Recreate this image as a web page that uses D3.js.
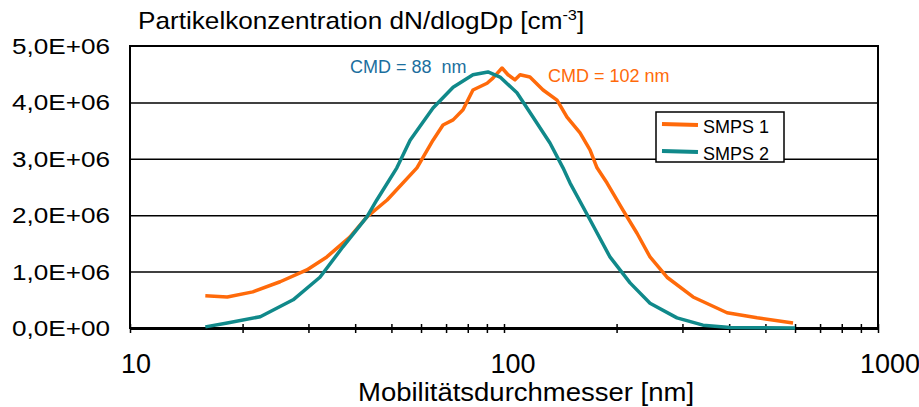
<!DOCTYPE html>
<html><head><meta charset="utf-8">
<script src="https://cdn.jsdelivr.net/npm/d3@7"></script>
<style>body{margin:0;background:#fff}svg{display:block}text{font-family:"Liberation Sans",Arial,sans-serif;white-space:pre}</style>
</head><body><svg id="c" width="919" height="407"></svg>
<script>
const smps1Dp = [15.9,18.2,21.3,25.2,29.7,33.6,38.7,43.0,48.7,58.5,64.6,68.7,73.1,77.7,82.6,90.1,93.4,98.8,102.5,107,110.4,117.3,127.2,138.6,147.4,159.7,169.8,177.3,188.6,208,226.8,245.7,272.8,320.2,394.8,474.9,592.7];
const smps1N  = [0.57,0.55,0.64,0.82,1.03,1.26,1.61,1.97,2.27,2.84,3.33,3.60,3.69,3.87,4.22,4.34,4.43,4.61,4.49,4.40,4.49,4.45,4.22,4.04,3.74,3.46,3.16,2.84,2.57,2.09,1.68,1.26,0.90,0.55,0.27,0.18,0.09];
const smps2Dp = [15.9,18.2,22.3,27.3,32.2,37.1,43.0,45.7,51.7,56.1,64.6,73.1,82.6,90.6,97.6,108.3,119.5,132.7,143.8,150.2,169.8,192,217.3,245.7,290.1,340.5,402.2,600];
const smps2N  = [0.02,0.09,0.20,0.50,0.90,1.44,1.97,2.27,2.84,3.33,3.90,4.27,4.49,4.54,4.45,4.17,3.74,3.28,2.84,2.57,1.92,1.26,0.80,0.44,0.18,0.05,0.01,0.0];
const seriesNames = ["SMPS 1","SMPS 2"];
const yTickValues = [0,1e6,2e6,3e6,4e6,5e6];
const yTickLabels = ["0,0E+00","1,0E+06","2,0E+06","3,0E+06","4,0E+06","5,0E+06"];
const xTickValues = [10,100,1000];
const xTickLabels = ["10","100","1000"];
const cmdLabels = ["CMD = 88  nm","CMD = 102 nm"];

const svg = d3.select("#c");
const L=130,R=878,T=46,B=328;
const x = d3.scaleLog().domain([10,1000]).range([L,R]);
const y = d3.scaleLinear().domain([0,5e6]).range([B,T]);
const orange="#ff6a0a", teal="#10898a";

// gridlines
svg.append("g").attr("transform",`translate(${L},0)`)
  .call(d3.axisLeft(y).tickValues(yTickValues.slice(1,5)).tickSize(-(R-L)).tickFormat(""))
  .call(g=>g.select(".domain").remove())
  .call(g=>g.selectAll("line").attr("stroke","#000").attr("stroke-width",1.5));
// y labels (horizontally stretched like the reference)
svg.append("g").selectAll("text").data(yTickValues).join("text")
  .attr("transform",d=>`translate(110,${y(d)+8}) scale(1.16,1)`)
  .attr("text-anchor","end").attr("font-size",22.5).attr("fill","#000")
  .text((d,i)=>yTickLabels[i]);
// frame
svg.append("rect").attr("x",L).attr("y",T).attr("width",R-L).attr("height",B-T).attr("fill","none").attr("stroke","#000").attr("stroke-width",2);
// x axis ticks
const minor=[]; for(let d=10; d<1000; d*=10) for(let k=1;k<10;k++) minor.push(d*k); minor.push(1000);
svg.append("g").attr("transform",`translate(0,${B})`)
  .call(d3.axisBottom(x).tickValues(minor).tickSizeInner(5).tickSizeOuter(0).tickFormat(""))
  .call(g=>g.select(".domain").attr("stroke-width",3))
  .call(g=>g.selectAll("line").attr("stroke-width",1.5));
svg.append("g").attr("transform",`translate(0,${B})`)
  .call(d3.axisTop(x).tickValues(minor).tickSizeInner(4).tickSizeOuter(0).tickFormat(""))
  .call(g=>g.select(".domain").remove())
  .call(g=>g.selectAll("line").attr("stroke-width",1.5));
svg.append("g").selectAll("text").data(xTickValues).join("text")
  .attr("x",(d,i)=>x(d)+6+i*3).attr("y",373).attr("text-anchor","middle")
  .attr("font-size",27).attr("fill","#000").text((d,i)=>xTickLabels[i]);

// lines
const line = (dp,n)=>d3.line().x((d,i)=>x(dp[i])).y((d,i)=>y(n[i]*1e6))(dp);
svg.append("path").attr("d",line(smps1Dp,smps1N)).attr("fill","none").attr("stroke",orange).attr("stroke-width",3.5).attr("stroke-linejoin","round");
svg.append("path").attr("d",line(smps2Dp,smps2N)).attr("fill","none").attr("stroke",teal).attr("stroke-width",3.5).attr("stroke-linejoin","round");

// titles
const t = svg.append("text").attr("transform","translate(138,29) scale(1.09,1)").attr("font-size",24);
t.append("tspan").text("Partikelkonzentration dN/dlogDp [cm");
t.append("tspan").attr("font-size",15).attr("dy",-9).text("-3");
t.append("tspan").attr("dy",9).text("]");
svg.append("text").attr("transform",`translate(526,401) scale(1.1,1)`).attr("text-anchor","middle").attr("font-size",25).text("Mobilitätsdurchmesser [nm]");

// CMD annotations
svg.append("text").attr("x",350).attr("y",73).attr("font-size",18).attr("fill","#1b6f9e").text(cmdLabels[0]);
svg.append("text").attr("x",548).attr("y",82).attr("font-size",18).attr("fill",orange).text(cmdLabels[1]);

// legend
const lg = svg.append("g");
lg.append("rect").attr("x",656).attr("y",112).attr("width",128).attr("height",50).attr("fill","#fff").attr("stroke","#000").attr("stroke-width",1.5);
[orange,teal].forEach((c,i)=>{
  const yy = 124 + i*27;
  lg.append("line").attr("x1",662).attr("x2",698).attr("y1",yy).attr("y2",yy+1).attr("stroke",c).attr("stroke-width",4);
  lg.append("text").attr("x",703).attr("y",yy+9).attr("font-size",18).text(seriesNames[i]);
});
</script></body></html>
